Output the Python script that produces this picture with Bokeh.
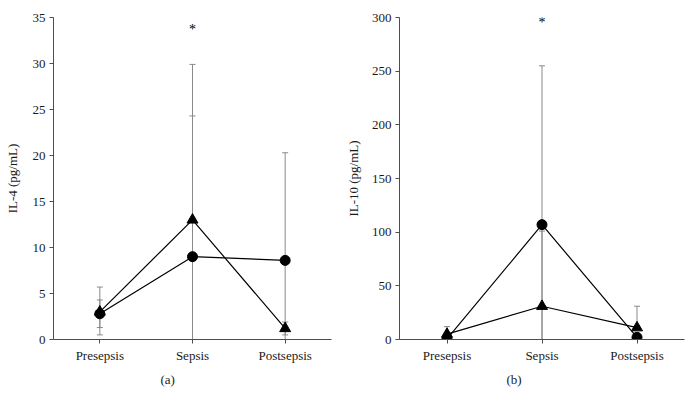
from bokeh.plotting import figure
from bokeh.layouts import row
from bokeh.models import Range1d, FixedTicker, Title
from bokeh.core.properties import value
from bokeh.embed import file_html
from bokeh.resources import INLINE

categories = ["Presepsis", "Sepsis", "Postsepsis"]

# Panel (a): IL-4
il4_circle = [2.8, 9.0, 8.6]
il4_triangle = [3.0, 13.0, 1.2]
il4_circle_upper = [5.7, 24.3, 20.3]
il4_circle_lower = [0.5, 0.0, 0.0]
il4_triangle_upper = [4.3, 29.9, 1.9]
il4_triangle_lower = [1.3, 0.0, 0.5]
il4_ticks = [0, 5, 10, 15, 20, 25, 30, 35]
il4_star = [33.7]

# Panel (b): IL-10
il10_circle = [0.5, 107.0, 2.0]
il10_triangle = [5.0, 31.0, 11.0]
il10_circle_upper = [0.5, 255.0, 2.0]
il10_circle_lower = [0.5, 0.0, 2.0]
il10_triangle_upper = [12.0, 101.0, 31.0]
il10_triangle_lower = [5.0, 0.0, 11.0]
il10_ticks = [0, 50, 100, 150, 200, 250, 300]
il10_star = [295.0]

FONT = "Liberation Serif"
TXT = "#1a1a1a"
AX = "#4d4d4d"
ERR = "#8a8a8a"


def panel(ylabel, caption, circ, tri, cu, cl, tu, tl, ticks, star,
          width, borders, label_standoff, cap_offset):
    left, right, top, bottom = borders
    height = 390
    ymax = ticks[-1]
    p = figure(width=width, height=height, output_backend="svg",
               toolbar_location=None,
               x_range=Range1d(-0.5, 2.5), y_range=Range1d(0, ymax),
               min_border_left=left, min_border_right=right,
               min_border_top=top, min_border_bottom=bottom)
    p.outline_line_color = None
    p.xgrid.visible = False
    p.ygrid.visible = False

    xs = list(range(len(categories)))

    # error bars
    for vals, up, lo in ((circ, cu, cl), (tri, tu, tl)):
        p.segment(x0=xs, y0=lo, x1=xs, y1=up, line_color=ERR, line_width=1)
        cx = [x for x, u, v in zip(xs, up, vals) if u != v]
        cy = [u for u, v in zip(up, vals) if u != v]
        p.scatter(x=cx, y=cy, marker="dash", size=6, line_color=ERR, line_width=1)
        lx = [x for x, l, v in zip(xs, lo, vals) if l != v and l > 0]
        ly = [l for l, v in zip(lo, vals) if l != v and l > 0]
        p.scatter(x=lx, y=ly, marker="dash", size=6, line_color=ERR, line_width=1)

    p.line(xs, circ, line_color="black", line_width=1.2)
    p.line(xs, tri, line_color="black", line_width=1.2)
    p.scatter(xs, circ, marker="circle", size=10, fill_color="black", line_color="black")
    p.scatter(xs, tri, marker="triangle", size=11, fill_color="black", line_color="black")

    p.text(x=[1] * len(star), y=star, text=["*"] * len(star),
           text_font=value(FONT), text_font_size="14px", text_color="black",
           text_align="center", text_baseline="middle")

    # axes
    p.xaxis.ticker = FixedTicker(ticks=xs)
    p.xaxis.major_label_overrides = {i: c for i, c in enumerate(categories)}
    p.yaxis.ticker = FixedTicker(ticks=ticks)
    for ax in (p.xaxis[0], p.yaxis[0]):
        ax.axis_line_color = AX
        ax.axis_line_width = 1
        ax.major_tick_line_color = AX
        ax.major_tick_in = 0
        ax.major_tick_out = 4
        ax.minor_tick_line_color = None
        ax.major_label_text_font = FONT
        ax.major_label_text_font_size = "13px"
        ax.major_label_text_color = TXT
        ax.major_label_standoff = 4
    p.yaxis.axis_label = ylabel
    p.yaxis.axis_label_text_font = FONT
    p.yaxis.axis_label_text_font_style = "normal"
    p.yaxis.axis_label_text_font_size = "13px"
    p.yaxis.axis_label_text_color = TXT
    p.yaxis.axis_label_standoff = label_standoff

    # caption below the panel
    t = Title(text=caption, align="left", offset=cap_offset,
              text_font=FONT, text_font_size="13px", text_font_style="normal",
              text_color=TXT, standoff=8)
    p.add_layout(t, "below")
    return p


pa = panel("IL-4 (pg/mL)", "(a)", il4_circle, il4_triangle,
           il4_circle_upper, il4_circle_lower,
           il4_triangle_upper, il4_triangle_lower,
           il4_ticks, il4_star, 338, (53, 7, 14, 51), 10, 107)
pb = panel("IL-10 (pg/mL)", "(b)", il10_circle, il10_triangle,
           il10_circle_upper, il10_circle_lower,
           il10_triangle_upper, il10_triangle_lower,
           il10_ticks, il10_star, 347, (61, 1, 17, 50), 8, 107)

layout = row(pa, pb)
open("out.html", "w").write(file_html(layout, INLINE))
